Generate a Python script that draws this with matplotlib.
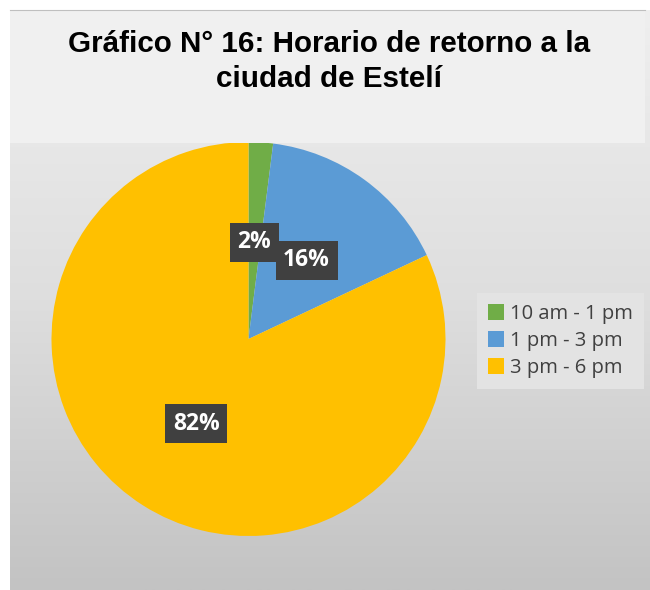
import numpy as np
import matplotlib
matplotlib.use('Agg')
import matplotlib.pyplot as plt
from matplotlib.patches import Patch

# datos
categorias = ['10 am - 1 pm', '1 pm - 3 pm', '3 pm - 6 pm']
porcentajes = [2, 16, 82]
colores = ['#70ad47', '#5b9bd5', '#ffc000']
titulo = 'Gráfico N° 16: Horario de retorno a la\nciudad de Estelí'

W, H = 650, 590
fig = plt.figure(figsize=(W / 100, H / 100), dpi=100)
fig.patch.set_facecolor('white')

def px(x0, y0, x1, y1):
    # caja en pixeles (origen arriba-izquierda) -> fraccion de figura
    return [x0 / W, 1 - y1 / H, (x1 - x0) / W, (y1 - y0) / H]

# fondo con degradado
ax_bg = fig.add_axes(px(10, 10, 650, 590))
grad = np.linspace(0, 1, 256).reshape(-1, 1)
ax_bg.imshow(grad, aspect='auto', cmap=matplotlib.colors.LinearSegmentedColormap.from_list(
    'g', ['#efefef', '#dedede', '#c3c3c3']), extent=[0, 1, 0, 1], origin='upper')
ax_bg.set_axis_off()

# pastel
ax = fig.add_axes(px(51.5, 142, 445.5, 536))
ax.pie(porcentajes, colors=colores, startangle=90, counterclock=False,
       radius=1, wedgeprops=dict(linewidth=0))
ax.set_xlim(-1, 1)
ax.set_ylim(-1, 1)
ax.set_aspect('equal')
ax.set_axis_off()

# etiquetas de datos
pos_etiquetas = [(0.03, 0.49), (0.295, 0.40), (-0.265, -0.43)]
for p, (x, y) in zip(porcentajes, pos_etiquetas):
    ax.text(x, y, f'{p}%', ha='center', va='center', color='white',
            fontsize=16.5, fontweight='bold', family='Open Sans',
            bbox=dict(boxstyle='square,pad=0.33', facecolor='#404040', edgecolor='none'))

# leyenda
handles = [Patch(facecolor=c, edgecolor='none') for c in colores]
leg = fig.legend(handles, categorias, loc='center left',
                 bbox_to_anchor=(483 / W, 1 - 341 / H), frameon=True,
                 prop=dict(family='Open Sans', size=14.5), labelcolor='#404040',
                 handlelength=0.8, handleheight=0.8, handletextpad=0.3,
                 labelspacing=0.35, borderpad=0.25, borderaxespad=0)
leg.get_frame().set_facecolor('#e3e3e3')
leg.get_frame().set_edgecolor('none')
leg.get_frame().set_boxstyle('square')
leg.get_frame().set_alpha(1)

# caja del titulo
ax_t = fig.add_axes(px(10, 10, 645, 143))
ax_t.set_facecolor('#f0f0f0')
ax_t.set_xticks([])
ax_t.set_yticks([])
for s in ['left', 'right', 'bottom']:
    ax_t.spines[s].set_visible(False)
ax_t.spines['top'].set_color('#bfbfbf')
ax_t.set_zorder(5)
ax_t.text(0.502, 0.61, titulo, ha='center', va='center', fontsize=21.3,
          fontweight='bold', family='Liberation Sans', linespacing=1.32,
          transform=ax_t.transAxes)

fig.savefig('out.png', dpi=100)
